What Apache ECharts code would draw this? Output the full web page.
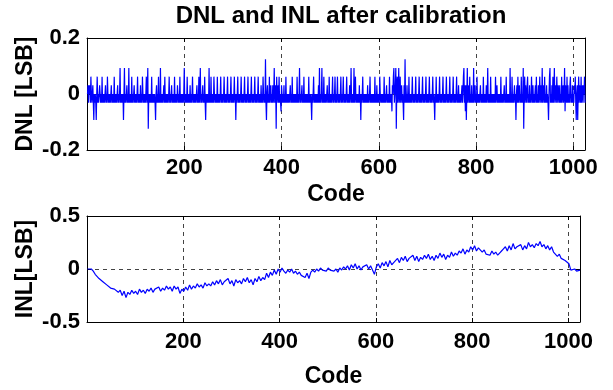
<!DOCTYPE html>
<html>
	<head>
		<meta charset="UTF-8">
		<title>DNL and INL after calibration</title>
		<script src="https://cdn.jsdelivr.net/npm/echarts@6/dist/echarts.min.js"></script>
		<style type="text/css">
			html, body { margin: 0; padding: 0; background: #fff; }
		</style>
	</head>
	<body>
		<div id="box" style="width:613px;height:390px;"></div>

		<script type="text/javascript">
			// DNL levels (LSB), one digit per code below picks a level
			var dnlLevels = [-0.124, -0.093, -0.062, -0.031, 0, 0.031, 0.062, 0.093, 0.124];
			// codes 1..1024, 64 codes per row
			var dnlRows = [
				'4535453643453143431463434543436343434534364343434534343634343453',
				'4347343434147343453437343436343453434346343435343643434346347043',
				'4343634343431453436343734343453634343434634345343436343435434363',
				'4343434734343634343534346343434345343634734345343631434343734363',
				'4343643434363434346343434634343463434346343434634143463434346343',
				'4346343434634343463434346343434634343534364343831453436345343534',
				'7345063453634325434353436343434345343634343434363434734345343634',
				'3434343634343143463434343435373434734363434345343634343463434634',
				'3463434346343463434346343435347343437346343434353414346343434343',
				'5343463434343436343534343643434343634345343436343425467345705634',
				'7346345343153834353436343434634343463434346343434634343463434346',
				'3434346343143634343463434346343434634343463434346343434634353434',
				'3453467352514735436343534373453436343434534343634343534734343634',
				'3434343634534343436343434534363434343734363434534145363453436343',
				'7046354356343534364353434536343534635437345363435343146734353634',
				'7345364354353436345347254363534356343534354631451463543634535463'
			];
			// INL in hundredths of LSB, one value every 4 codes (1, 5, 9, ... 1021) then code 1024
			var inlStep = 4;
			var inlValues = [
				0, -1, 0, -2, -5, -6, -9, -10, -12, -11, -15, -14, -18, -17, -19, -18,
				-22, -20, -25, -21, -27, -22, -24, -20, -23, -21, -24, -19, -22, -20, -23, -19,
				-21, -18, -22, -19, -20, -17, -21, -18, -20, -16, -19, -17, -21, -16, -19, -17,
				-23, -19, -21, -17, -20, -15, -19, -16, -18, -14, -17, -15, -18, -13, -16, -14,
				-16, -12, -15, -11, -14, -10, -15, -12, -13, -9, -14, -11, -16, -10, -13, -11,
				-14, -9, -12, -8, -13, -10, -15, -9, -12, -7, -11, -8, -10, -4, -8, -3,
				-6, -1, -5, 0, -3, 1, -2, -4, -1, -3, 0, -4, -2, -5, -3, -6,
				-5, -8, -4, -9, -3, -1, -3, 0, -2, 1, -1, 0, -2, 1, -1, 0,
				-2, 0, -3, 1, -1, 2, 0, 3, -1, 4, 1, 5, 0, 3, -1, 2,
				1, 4, 0, 3, -1, -5, 2, 5, 1, 6, 3, 7, 2, 8, 4, 6,
				7, 10, 6, 11, 8, 12, 7, 10, 9, 13, 8, 12, 7, 11, 9, 13,
				10, 14, 9, 12, 8, 13, 10, 15, 11, 14, 9, 13, 11, 16, 12, 15,
				13, 17, 15, 19, 14, 18, 16, 21, 18, 22, 17, 20, 19, 16, 18, 14,
				15, 13, 17, 14, 16, 13, 15, 17, 19, 21, 17, 22, 18, 24, 19, 21,
				20, 23, 18, 22, 19, 25, 21, 23, 20, 24, 22, 26, 21, 23, 19, 22,
				18, 21, 16, 15, 12, 14, 10, 11, 8, 9, 5, -1, -2, 0, -2, -1,
				-1
			];
			var lastCode = 1024;

			var dnlData = dnlRows.join('').split('').map(function (c, i) {
				return [i + 1, dnlLevels[+c]];
			});
			var inlData = inlValues.map(function (v, i) {
				var code = i < inlValues.length - 1 ? 1 + inlStep * i : lastCode;
				return [code, v / 100];
			});

			var font = 'Liberation Sans';
			var tickFont = { color: '#000', fontFamily: font, fontWeight: 'bold', fontSize: 22 };
			var nameFont = { color: '#000', fontFamily: font, fontWeight: 'bold', fontSize: 23 };
			var gridLine = { show: true, lineStyle: { color: '#444', type: [4, 4], width: 1 } };
			var blackLine = { show: true, onZero: false, lineStyle: { color: '#000', width: 1 } };
			var inTick = { show: true, inside: true, length: 4, lineStyle: { color: '#000' } };

			function plain(v) { return String(v); }

			function xMain(grid, margin, gap) {
				return {
					gridIndex: grid, type: 'value', min: 0, max: lastCode, interval: 200,
					axisLine: blackLine, axisTick: inTick,
					axisLabel: Object.assign({ margin: margin, showMinLabel: false, showMaxLabel: false, formatter: plain }, tickFont),
					splitLine: Object.assign({ showMinLine: false, showMaxLine: false }, gridLine),
					name: 'Code', nameLocation: 'middle', nameGap: gap, nameTextStyle: nameFont
				};
			}
			function xTop(grid) {
				return {
					gridIndex: grid, type: 'value', position: 'top', min: 0, max: lastCode, interval: 200,
					axisLine: blackLine, axisTick: inTick,
					axisLabel: { show: false }, splitLine: { show: false }
				};
			}
			function yMain(grid, lim, name) {
				return {
					gridIndex: grid, type: 'value', min: -lim, max: lim, interval: lim,
					axisLine: blackLine, axisTick: inTick,
					axisLabel: Object.assign({ margin: 7, formatter: plain }, tickFont),
					splitLine: Object.assign({ showMinLine: false, showMaxLine: false }, gridLine),
					name: name, nameLocation: 'middle', nameGap: 50, nameMoveOverlap: false,
					nameTextStyle: nameFont
				};
			}
			function yRight(grid, lim) {
				return {
					gridIndex: grid, type: 'value', position: 'right', min: -lim, max: lim, interval: lim,
					axisLine: blackLine, axisTick: inTick,
					axisLabel: { show: false }, splitLine: { show: false }
				};
			}

			var myChart = echarts.init(document.getElementById('box'));
			var option = {
				animation: false,
				backgroundColor: '#fff',
				title: {
					text: 'DNL and INL after calibration',
					left: 336, top: -1, textAlign: 'center',
					textStyle: { color: '#000', fontFamily: font, fontWeight: 'bold', fontSize: 24 }
				},
				grid: [
					{ left: 87, top: 38, width: 498, height: 112 },
					{ left: 87, top: 216, width: 493, height: 106 }
				],
				xAxis: [xMain(0, 7, 33), xTop(0), xMain(1, 9, 43), xTop(1)],
				yAxis: [yMain(0, 0.2, 'DNL [LSB]'), yRight(0, 0.2), yMain(1, 0.5, 'INL[LSB]'), yRight(1, 0.5)],
				series: [
					{
						name: 'DNL', type: 'line', xAxisIndex: 0, yAxisIndex: 0,
						data: dnlData, showSymbol: false, silent: true,
						lineStyle: { color: '#0000ff', width: 1.2 }
					},
					{
						name: 'INL', type: 'line', xAxisIndex: 2, yAxisIndex: 2,
						data: inlData, showSymbol: false, silent: true,
						lineStyle: { color: '#0000ff', width: 1.2 }
					}
				]
			};
			myChart.setOption(option);
		</script>
	</body>
</html>
